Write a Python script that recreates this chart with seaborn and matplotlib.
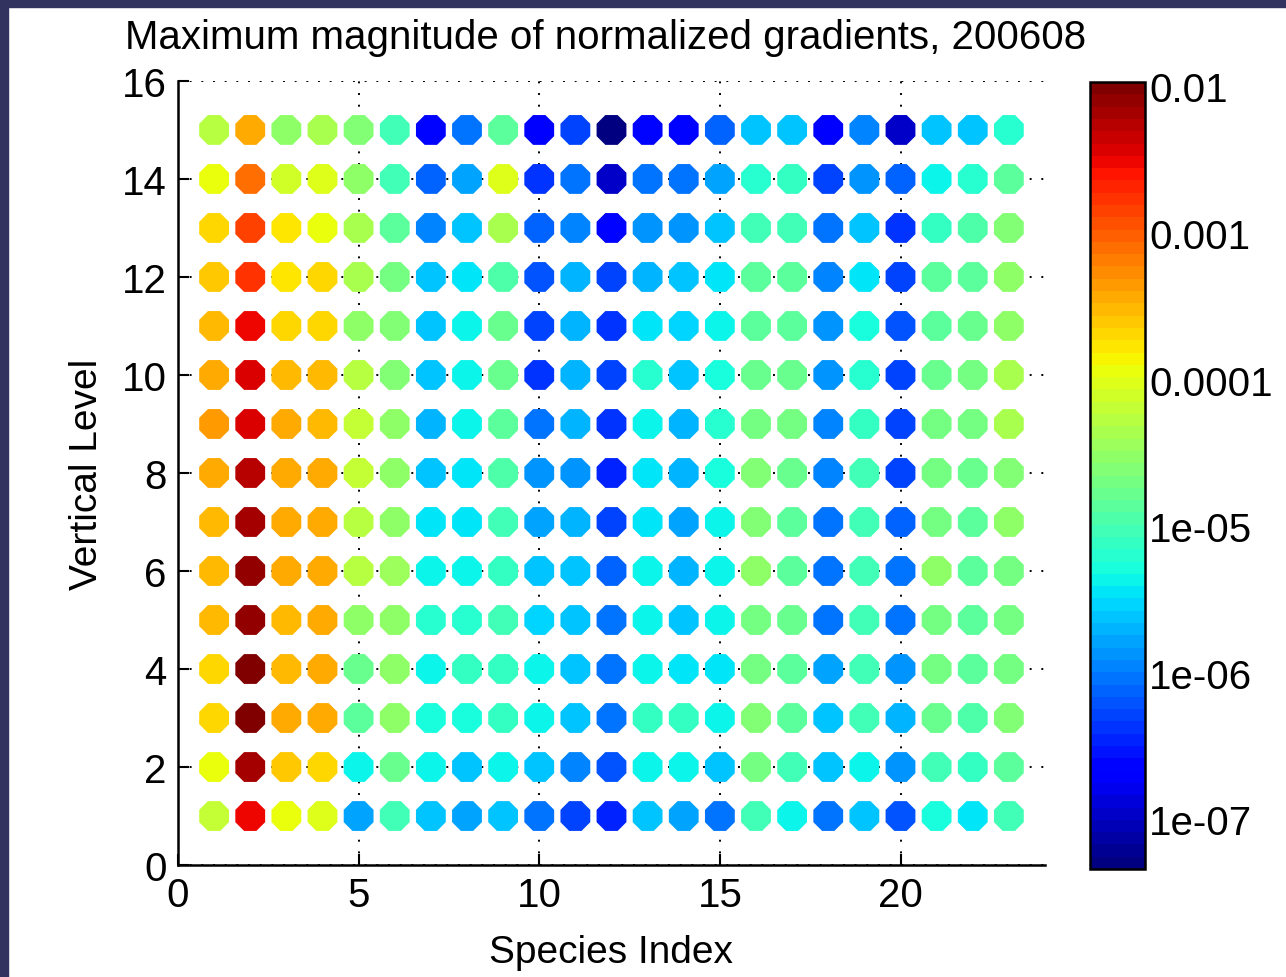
import numpy as np
import pandas as pd
import matplotlib
matplotlib.use("Agg")
import matplotlib.pyplot as plt
import matplotlib.colors as mcolors
import seaborn as sns

# log10 of max gradient magnitude, one list per vertical level, species 1..23
lev15 = [-4.30, -3.40, -4.55, -4.35, -4.60, -5.05, -6.60, -6.00, -4.85, -6.70, -6.33, -7.30, -6.65, -6.60, -6.10, -5.65, -5.60, -6.70, -5.95, -7.00, -5.60, -5.65, -5.20]
lev14 = [-3.90, -3.10, -4.10, -4.05, -4.55, -5.00, -6.10, -5.80, -4.05, -6.35, -6.05, -6.95, -6.05, -6.05, -5.75, -5.20, -5.15, -6.30, -5.85, -6.10, -5.33, -5.20, -4.85]
lev13 = [-3.65, -2.85, -3.80, -3.90, -4.40, -4.85, -5.95, -5.65, -4.40, -6.10, -5.95, -6.60, -5.85, -5.85, -5.60, -5.00, -5.00, -6.05, -5.65, -6.35, -5.15, -4.95, -4.60]
lev12 = [-3.60, -2.75, -3.75, -3.70, -4.35, -4.67, -5.65, -5.45, -4.95, -6.20, -5.70, -6.30, -5.70, -5.60, -5.45, -4.90, -4.85, -5.95, -5.45, -6.30, -4.90, -4.85, -4.55]
lev11 = [-3.55, -2.55, -3.65, -3.65, -4.55, -4.60, -5.65, -5.40, -4.80, -6.30, -5.70, -6.35, -5.45, -5.50, -5.33, -4.90, -4.90, -5.85, -5.30, -6.20, -4.85, -4.75, -4.55]
lev10 = [-3.40, -2.45, -3.55, -3.55, -4.25, -4.60, -5.65, -5.40, -4.75, -6.40, -5.70, -6.30, -5.20, -5.60, -5.25, -4.75, -4.75, -5.85, -5.20, -6.30, -4.75, -4.67, -4.40]
lev09 = [-3.33, -2.40, -3.45, -3.50, -4.20, -4.55, -5.70, -5.40, -4.90, -6.05, -5.70, -6.35, -5.33, -5.70, -5.20, -4.67, -4.67, -5.95, -5.15, -6.30, -4.67, -4.67, -4.40]
lev08 = [-3.45, -2.30, -3.40, -3.47, -4.20, -4.55, -5.60, -5.45, -4.95, -5.85, -5.85, -6.45, -5.45, -5.70, -5.25, -4.60, -4.75, -5.95, -5.05, -6.30, -4.67, -4.75, -4.60]
lev07 = [-3.50, -2.20, -3.40, -3.47, -4.25, -4.50, -5.42, -5.42, -5.05, -5.75, -5.70, -6.30, -5.45, -5.75, -5.33, -4.60, -4.85, -6.05, -5.05, -6.10, -4.67, -4.85, -4.50]
lev06 = [-3.50, -2.12, -3.47, -3.40, -4.30, -4.45, -5.33, -5.33, -5.15, -5.60, -5.65, -6.10, -5.40, -5.70, -5.33, -4.55, -4.85, -6.00, -5.00, -6.05, -4.55, -4.85, -4.67]
lev05 = [-3.50, -2.08, -3.53, -3.40, -4.55, -4.50, -5.20, -5.20, -5.05, -5.50, -5.65, -6.05, -5.40, -5.60, -5.33, -4.67, -4.75, -6.00, -5.00, -6.00, -4.67, -4.90, -4.67]
lev04 = [-3.65, -2.00, -3.55, -3.40, -4.80, -4.50, -5.33, -5.15, -5.15, -5.40, -5.60, -6.05, -5.33, -5.45, -5.45, -4.67, -4.90, -5.75, -5.05, -5.85, -4.67, -4.90, -4.67]
lev03 = [-3.65, -2.00, -3.47, -3.47, -4.90, -4.50, -5.25, -5.25, -5.15, -5.40, -5.65, -6.00, -5.15, -5.15, -5.40, -4.60, -4.90, -5.65, -5.05, -5.70, -4.75, -4.95, -4.60]
lev02 = [-3.90, -2.20, -3.62, -3.72, -5.40, -4.75, -5.33, -5.60, -5.40, -5.65, -5.95, -6.20, -5.33, -5.40, -5.60, -4.67, -5.00, -5.65, -5.40, -5.85, -5.00, -5.15, -4.85]
lev01 = [-4.20, -2.50, -3.90, -4.05, -5.75, -5.05, -5.60, -5.80, -5.65, -6.05, -6.30, -6.45, -5.65, -5.75, -6.00, -5.00, -5.33, -6.00, -5.65, -6.20, -5.25, -5.45, -5.05]

levels = [lev01, lev02, lev03, lev04, lev05, lev06, lev07, lev08,
          lev09, lev10, lev11, lev12, lev13, lev14, lev15]
species = list(range(1, 24))

cbar_min_exp = -7.34
cbar_max_exp = -1.97
cbar_ticks = [1e-7, 1e-6, 1e-5, 1e-4, 1e-3, 1e-2]
cbar_labels = ["1e-07", "1e-06", "1e-05", "0.0001", "0.001", "0.01"]

rows = []
for k, lev in enumerate(levels):
    for sp, e in zip(species, lev):
        rows.append({"species": sp, "level": k + 1, "value": 10.0 ** e})
df = pd.DataFrame(rows)

sns.set_style("white")
plt.rcParams["font.family"] = ["Liberation Sans", "DejaVu Sans"]
plt.rcParams["text.color"] = "black"
plt.rcParams["axes.labelcolor"] = "black"
plt.rcParams["xtick.color"] = "black"
plt.rcParams["ytick.color"] = "black"

fig = plt.figure(figsize=(12.86, 9.78), dpi=100)
# dark frame strips on the left and top
fig.patches.append(plt.Rectangle((0, 0), 8 / 1286, 1, transform=fig.transFigure,
                                 color="#333360", zorder=0))
fig.patches.append(plt.Rectangle((0, 1 - 8 / 978), 1, 8 / 978, transform=fig.transFigure,
                                 color="#333360", zorder=0))

ax = fig.add_axes([0.1384, 0.1145, 0.8126 - 0.1384, 0.9162 - 0.1145])
cax = fig.add_axes([0.8476, 0.1104, 0.8904 - 0.8476, 0.9151 - 0.1104])

cmap = plt.get_cmap("jet", 64)
norm = mcolors.LogNorm(vmin=10 ** cbar_min_exp, vmax=10 ** cbar_max_exp)

ax.set_axisbelow(True)
ax.grid(True, color="black", linestyle=(0, (1, 5)), linewidth=1.4)
sns.scatterplot(data=df, x="species", y="level", hue="value", hue_norm=norm,
                palette=cmap, marker="8", s=540, linewidth=0, legend=False, ax=ax)

ax.set_xlim(0, 24)
ax.set_ylim(0, 16)
ax.set_xticks([0, 5, 10, 15, 20])
ax.set_yticks(range(0, 17, 2))
ax.tick_params(direction="in", length=8, width=1.5, labelsize=29, pad=8,
               bottom=True, left=True)
for s in ["top", "right"]:
    ax.spines[s].set_visible(False)
for s in ["left", "bottom"]:
    ax.spines[s].set_color("black")
    ax.spines[s].set_linewidth(1.8)

fig.text(0.4705, 0.961, "Maximum magnitude of normalized gradients, 200608",
         fontsize=29, ha="center", va="center")
ax.set_xlabel("Species Index", fontsize=28, labelpad=14)
ax.set_ylabel("Vertical Level", fontsize=28, labelpad=12)

sm = plt.cm.ScalarMappable(norm=norm, cmap=cmap)
cbar = fig.colorbar(sm, cax=cax)
cbar.ax.minorticks_off()
cbar.set_ticks(cbar_ticks)
cbar.set_ticklabels(cbar_labels)
cbar.ax.tick_params(direction="in", left=True, right=True, length=7, width=1.5,
                    labelsize=29, pad=3)
cbar.outline.set_linewidth(1.8)
cbar.outline.set_edgecolor("black")

fig.savefig("out.png", dpi=100)
